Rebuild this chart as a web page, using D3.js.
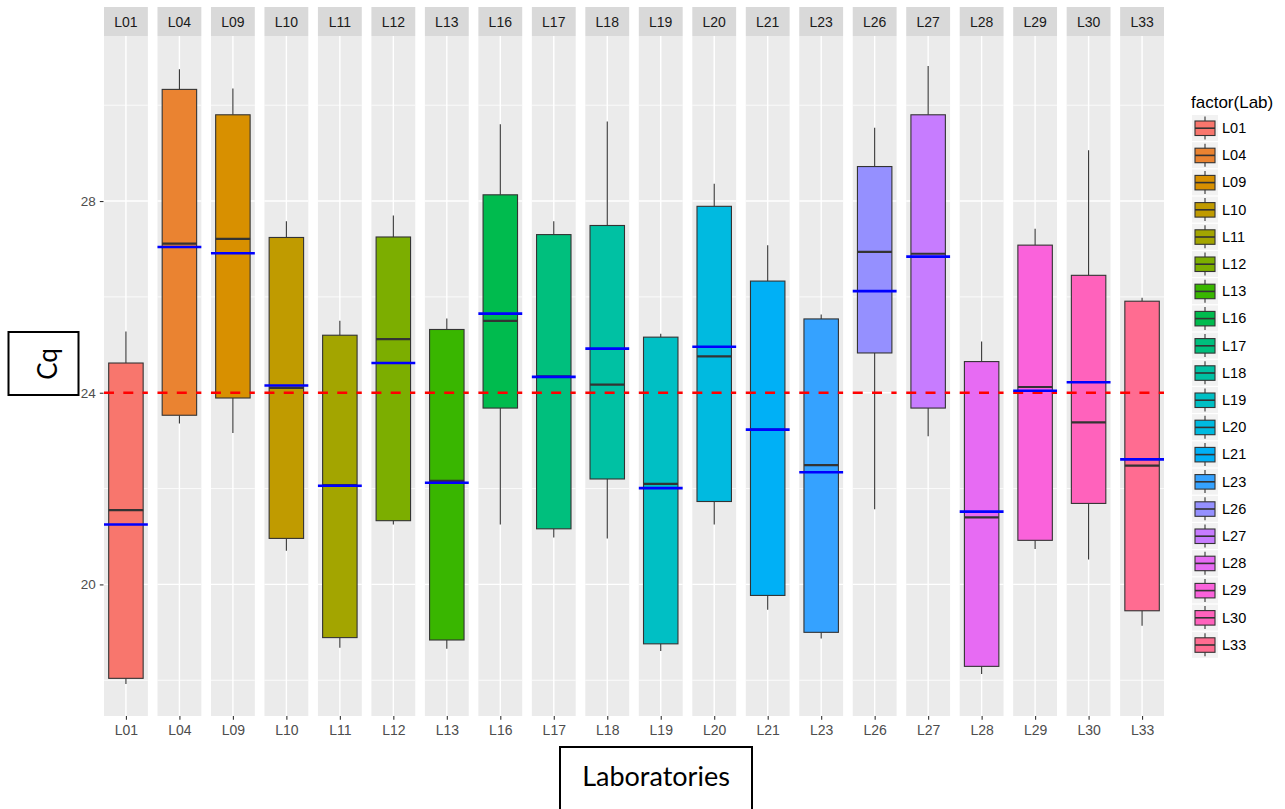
<!DOCTYPE html>
<html>
<head>
<meta charset="utf-8">
<script src="https://cdn.jsdelivr.net/npm/d3@7"></script>
<style>
  html, body { margin: 0; padding: 0; background: #fff; }
  svg { display: block; }
</style>
</head>
<body>
<svg id="chart" width="1285" height="809"></svg>
<script>
// ---- Data ----
const labs       = ["L01","L04","L09","L10","L11","L12","L13","L16","L17","L18","L19","L20","L21","L23","L26","L27","L28","L29","L30","L33"];
const whiskerLow = [17.92,23.36,23.16,20.70,18.68,21.25,18.66,21.25,20.98,20.96,18.61,21.25,19.47,18.87,21.57,23.09,18.13,20.74,20.52,19.14];
const q1         = [18.04,23.53,23.89,20.96,18.89,21.33,18.84,23.68,21.16,22.20,18.76,21.73,19.77,19.00,24.83,23.68,18.29,20.92,21.69,19.45];
const medians    = [21.55,27.11,27.21,24.10,22.07,25.12,22.16,25.50,24.34,24.17,22.10,24.76,23.23,22.49,26.94,26.90,21.40,24.12,23.38,22.48];
const q3         = [24.62,30.33,29.80,27.24,25.20,27.25,25.32,28.13,27.30,27.49,25.16,27.89,26.33,25.54,28.72,29.80,24.65,27.08,26.45,25.91];
const whiskerHigh= [25.28,30.75,30.35,27.58,25.50,27.70,25.55,29.60,27.58,29.66,25.23,28.36,27.08,25.63,29.53,30.82,25.07,27.42,29.06,25.98];
const means      = [21.25,27.04,26.91,24.15,22.06,24.62,22.12,25.65,24.33,24.92,22.01,24.96,23.23,22.34,26.12,26.84,21.52,24.04,24.22,22.61];
const refValue   = 24;
const yMajorTicks = [20, 24, 28];
const yMinorTicks = [18, 22, 26, 30];
const palette    = ["#F8766D","#EA8331","#D89000","#C09B00","#A3A500","#7CAE00","#39B600","#00BB4E","#00BF7D","#00C1A3","#00BFC4","#00BAE0","#00B0F6","#35A2FF","#9590FF","#C77CFF","#E76BF3","#FA62DB","#FF62BC","#FF6C91"];
const yTitle = "Cq";
const xTitle = "Laboratories";
const legendTitle = "factor(Lab)";

// ---- Layout ----
const svg = d3.select("#chart");
const panelTop = 36, panelBottom = 716, stripTop = 7;
const plotLeft = 104, plotRight = 1164;

const data = labs.map((lab, i) => ({
  lab, lo: whiskerLow[i], q1: q1[i], med: medians[i], q3: q3[i], hi: whiskerHigh[i], mean: means[i]
}));

const dataMin = d3.min(whiskerLow), dataMax = d3.max(whiskerHigh);
const pad = (dataMax - dataMin) * 0.05;
const y = d3.scaleLinear().domain([dataMin - pad, dataMax + pad]).range([panelBottom - 1, panelTop - 1]);

const xPanel = d3.scaleBand().domain(labs).range([plotLeft, plotRight]).paddingInner(0.18).paddingOuter(0);
const color = d3.scaleOrdinal().domain(labs).range(palette);
const bw = xPanel.bandwidth();

const font = "'Liberation Sans', Arial, sans-serif";

// panels
const panels = svg.append("g").selectAll("g.panel").data(data).join("g")
  .attr("class", "panel")
  .attr("transform", d => `translate(${xPanel(d.lab)},0)`);

// strip
panels.append("rect").attr("x", 0).attr("y", stripTop).attr("width", bw).attr("height", panelTop - stripTop).attr("fill", "#D9D9D9");
panels.append("text").attr("x", bw / 2).attr("y", (stripTop + panelTop) / 2 + 5)
  .attr("text-anchor", "middle").attr("font-family", font).attr("font-size", 14).attr("fill", "#1A1A1A")
  .text(d => d.lab);

// background
panels.append("rect").attr("x", 0).attr("y", panelTop).attr("width", bw).attr("height", panelBottom - panelTop).attr("fill", "#EBEBEB");

// grid + marks
panels.each(function(d) {
  const g = d3.select(this);
  g.selectAll("line.minor").data(yMinorTicks).join("line")
    .attr("x1", 0).attr("x2", bw).attr("y1", t => y(t)).attr("y2", t => y(t))
    .attr("stroke", "#fff").attr("stroke-width", 0.8);
  g.selectAll("line.major").data(yMajorTicks).join("line")
    .attr("x1", 0).attr("x2", bw).attr("y1", t => y(t)).attr("y2", t => y(t))
    .attr("stroke", "#fff").attr("stroke-width", 1.4);
  g.append("line").attr("x1", bw / 2).attr("x2", bw / 2).attr("y1", panelTop).attr("y2", panelBottom)
    .attr("stroke", "#fff").attr("stroke-width", 1.4);

  const inner = d3.scaleBand().domain([d.lab]).range([0, bw]).padding(0.12);
  const bx = inner(d.lab), bWidth = inner.bandwidth(), cx = bw / 2;

  // whiskers
  g.append("line").attr("x1", cx).attr("x2", cx).attr("y1", y(d.hi)).attr("y2", y(d.q3))
    .attr("stroke", "#333").attr("stroke-width", 1.1);
  g.append("line").attr("x1", cx).attr("x2", cx).attr("y1", y(d.q1)).attr("y2", y(d.lo))
    .attr("stroke", "#333").attr("stroke-width", 1.1);
  // box
  g.append("rect").attr("x", bx).attr("y", y(d.q3)).attr("width", bWidth).attr("height", y(d.q1) - y(d.q3))
    .attr("fill", color(d.lab)).attr("stroke", "#333").attr("stroke-width", 1.1);
  // median
  g.append("line").attr("x1", bx).attr("x2", bx + bWidth).attr("y1", y(d.med)).attr("y2", y(d.med))
    .attr("stroke", "#333").attr("stroke-width", 2.2);
  // reference dashed line
  g.append("line").attr("x1", 0).attr("x2", bw).attr("y1", y(refValue)).attr("y2", y(refValue))
    .attr("stroke", "#FF0000").attr("stroke-width", 2.6).attr("stroke-dasharray", "10,9.3");
  // mean line
  g.append("line").attr("x1", 0).attr("x2", bw).attr("y1", y(d.mean)).attr("y2", y(d.mean))
    .attr("stroke", "#0000FF").attr("stroke-width", 2.6);
});

// y-axis title box
svg.append("rect").attr("x", 8.5).attr("y", 332).attr("width", 70).attr("height", 63)
  .attr("fill", "#fff").attr("stroke", "#000").attr("stroke-width", 2);
svg.append("text").attr("transform", "translate(57,364) rotate(-90)")
  .attr("text-anchor", "middle").attr("font-family", "Lato, 'Open Sans', sans-serif").attr("font-size", 26)
  .attr("fill", "#000").text(yTitle);

// y axis (left)
const yAxis = d3.axisLeft(y).tickValues(yMajorTicks).tickSize(3.7).tickPadding(4);
const gy = svg.append("g").attr("transform", `translate(${plotLeft - 0.5},0)`).call(yAxis);
gy.select(".domain").remove();
gy.selectAll(".tick line").attr("stroke", "#333").attr("stroke-width", 1.1);
gy.selectAll(".tick text").attr("font-family", font).attr("font-size", 13.5).attr("fill", "#4D4D4D");

// x axis (bottom)
const xAxisScale = d3.scalePoint().domain(labs).range([xPanel(labs[0]) + bw / 2, xPanel(labs[labs.length - 1]) + bw / 2]);
const xAxis = d3.axisBottom(xAxisScale).tickSize(3.7).tickPadding(5);
const gx = svg.append("g").attr("transform", `translate(0,${panelBottom})`).call(xAxis);
gx.select(".domain").remove();
gx.selectAll(".tick line").attr("stroke", "#333").attr("stroke-width", 1.1);
gx.selectAll(".tick text").attr("font-family", font).attr("font-size", 14).attr("fill", "#4D4D4D");

// x title box
svg.append("rect").attr("x", 560).attr("y", 747).attr("width", 192).attr("height", 70)
  .attr("fill", "#fff").attr("stroke", "#000").attr("stroke-width", 2);
svg.append("text").attr("x", 656).attr("y", 786)
  .attr("text-anchor", "middle").attr("font-family", "Lato, 'Open Sans', sans-serif").attr("font-size", 27)
  .attr("fill", "#000").text(xTitle);

// legend
const legend = svg.append("g").attr("transform", "translate(1192,0)");
legend.append("text").attr("x", -1).attr("y", 108).attr("font-family", font).attr("font-size", 17)
  .attr("fill", "#000").text(legendTitle);
const keyStep = 27.2, keyTop = 115, keySize = 26;
const keys = legend.selectAll("g.key").data(labs).join("g")
  .attr("class", "key").attr("transform", (d, i) => `translate(0,${keyTop + i * keyStep})`);
keys.append("rect").attr("width", keySize).attr("height", keySize).attr("fill", "#F2F2F2");
keys.append("line").attr("x1", keySize / 2).attr("x2", keySize / 2).attr("y1", 1.5).attr("y2", keySize - 1.5)
  .attr("stroke", "#333").attr("stroke-width", 1.1);
keys.append("rect").attr("x", 3).attr("y", 6).attr("width", keySize - 6).attr("height", 14.5)
  .attr("fill", d => color(d)).attr("stroke", "#333").attr("stroke-width", 1.1);
keys.append("line").attr("x1", 3).attr("x2", keySize - 3).attr("y1", 13.2).attr("y2", 13.2)
  .attr("stroke", "#333").attr("stroke-width", 1.6);
keys.append("text").attr("x", 30).attr("y", keySize / 2 + 5).attr("font-family", font).attr("font-size", 14.5)
  .attr("fill", "#000").text(d => d);
</script>
</body>
</html>
